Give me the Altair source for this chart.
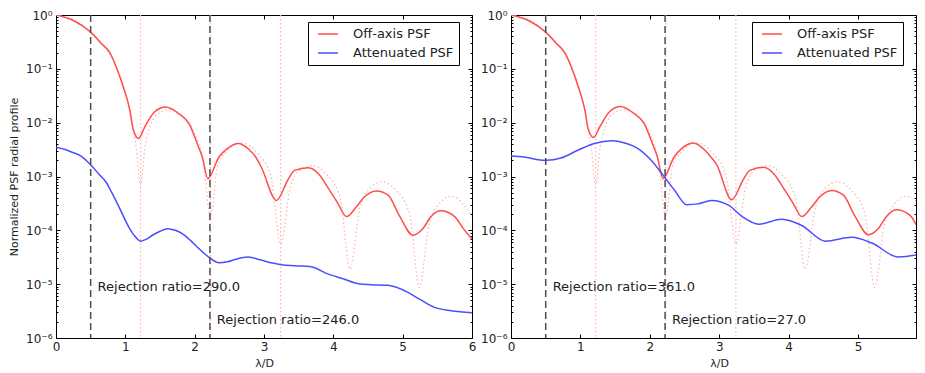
import altair as alt
import pandas as pd

# ---------------- data ----------------
RED_X = [0, 0.25, 0.5, 0.65, 0.78, 0.87, 0.97, 1.065, 1.11, 1.19, 1.28, 1.42, 1.58, 1.76, 1.92,
         2.04, 2.11, 2.19, 2.35, 2.47, 2.63, 2.78, 2.88, 2.96, 3.18, 3.35, 3.44, 3.64, 3.80, 3.92,
         4.07, 4.19, 4.33, 4.45, 4.62, 4.79, 4.95, 5.15, 5.29, 5.41, 5.55, 5.75, 5.87, 6.0]
RED_LEFT = [1.0, 0.79, 0.48, 0.30, 0.195, 0.107, 0.046, 0.017, 7.8e-3, 5.1e-3, 8.3e-3, 0.0158, 0.0195,
            0.0151, 9.5e-3, 4.0e-3, 2.3e-3, 9.1e-4, 2.3e-3, 3.3e-3, 4.1e-3, 3.2e-3, 2.3e-3, 1.5e-3,
            3.6e-4, 8.9e-4, 1.3e-3, 1.45e-3, 1.07e-3, 6.3e-4, 3.1e-4, 1.8e-4, 2.7e-4, 4.2e-4, 5.4e-4,
            4.5e-4, 1.9e-4, 8.1e-5, 1.07e-4, 1.8e-4, 2.3e-4, 1.8e-4, 1.1e-4, 6.9e-5]
RED_RIGHT = [1.0, 0.79, 0.48, 0.30, 0.195, 0.107, 0.046, 0.017, 7.8e-3, 5.3e-3, 8.4e-3, 0.016, 0.02,
             0.0152, 9.6e-3, 4.0e-3, 2.3e-3, 9.1e-4, 2.3e-3, 3.4e-3, 4.2e-3, 3.2e-3, 2.3e-3, 1.7e-3,
             3.7e-4, 8.9e-4, 1.3e-3, 1.48e-3, 1.07e-3, 6.3e-4, 3.1e-4, 1.8e-4, 2.7e-4, 4.2e-4, 5.5e-4,
             4.5e-4, 1.9e-4, 8.3e-5, 1.07e-4, 1.8e-4, 2.4e-4, 1.9e-4, 1.1e-4, 7.2e-5]

BLUE_LEFT_X = [0, 0.12, 0.24, 0.35, 0.51, 0.62, 0.72, 0.82, 0.91, 1.05, 1.13, 1.22, 1.30, 1.39, 1.50,
               1.61, 1.72, 1.82, 1.95, 2.06, 2.15, 2.23, 2.35, 2.47, 2.59, 2.77, 2.96, 3.10, 3.25,
               3.45, 3.68, 3.92, 4.15, 4.36, 4.55, 4.79, 5.07, 5.25, 5.46, 5.70, 6.0]
BLUE_LEFT = [3.5e-3, 3.2e-3, 2.8e-3, 2.45e-3, 1.6e-3, 1.1e-3, 7.9e-4, 4.6e-4, 2.7e-4, 1.15e-4, 8.0e-5,
             6.3e-5, 6.8e-5, 8.1e-5, 9.6e-5, 1.07e-4, 1.0e-4, 8.7e-5, 6.3e-5, 4.6e-5, 3.6e-5, 3.0e-5,
             2.5e-5, 2.6e-5, 2.9e-5, 3.2e-5, 2.8e-5, 2.5e-5, 2.3e-5, 2.2e-5, 2.1e-5, 1.55e-5, 1.25e-5,
             1.02e-5, 9.8e-6, 9.5e-6, 7.1e-6, 5.2e-6, 3.7e-6, 3.2e-6, 2.95e-6]

BLUE_RIGHT_X = [0, 0.19, 0.39, 0.51, 0.72, 0.97, 1.20, 1.45, 1.64, 1.83, 2.02, 2.21, 2.36, 2.53, 2.69,
                2.89, 3.14, 3.33, 3.57, 3.90, 4.19, 4.53, 4.91, 5.20, 5.58, 6.0]
BLUE_RIGHT = [2.4e-3, 2.3e-3, 2.05e-3, 2.0e-3, 2.2e-3, 3.1e-3, 4.1e-3, 4.6e-3, 4.2e-3, 3.3e-3, 2.0e-3,
              9.8e-4, 5.5e-4, 3.0e-4, 3.1e-4, 3.6e-4, 2.9e-4, 1.8e-4, 1.3e-4, 1.6e-4, 1.23e-4, 6.3e-5,
              7.4e-5, 5.8e-5, 3.2e-5, 3.8e-5]

AIRY_X = [0, 0.25, 0.5, 0.75, 0.9, 1.0, 1.1, 1.16, 1.22, 1.28, 1.35, 1.45, 1.64, 1.8, 2.0, 2.12, 2.23,
          2.33, 2.45, 2.68, 2.9, 3.1, 3.24, 3.38, 3.5, 3.7, 3.9, 4.1, 4.24, 4.38, 4.5, 4.7, 4.9, 5.1,
          5.24, 5.38, 5.5, 5.7, 5.9, 6.0]
AIRY = [1.0, 0.83, 0.48, 0.21, 0.089, 0.038, 0.01, 3.2e-3, 6.8e-4, 3.2e-3, 7.9e-3, 0.014, 0.0174, 0.014,
        6.3e-3, 2.0e-3, 1.8e-4, 1.6e-3, 2.8e-3, 4.2e-3, 2.8e-3, 1.0e-3, 5.6e-5, 6.3e-4, 1.26e-3, 1.6e-3,
        1.1e-3, 4.0e-4, 1.9e-5, 2.5e-4, 5.6e-4, 7.9e-4, 5.6e-4, 2.0e-4, 8.7e-6, 1.26e-4, 2.8e-4, 4.3e-4,
        2.8e-4, 1.8e-4]

DASHED_X = [0.5, 2.22]
DOTTED_X = [1.22, 2.23, 3.24]

SERIES = ["Off-axis PSF", "Attenuated PSF"]
COLORS = ["#ff4d4d", "#4d4dff"]

RATIO_X = [0.6, 2.32]
RATIO_Y = [8.7e-6, 2.2e-6]
RATIO_LEFT = ["Rejection ratio=290.0", "Rejection ratio=246.0"]
RATIO_RIGHT = ["Rejection ratio=361.0", "Rejection ratio=27.0"]

MAJOR = [1e-6, 1e-5, 1e-4, 1e-3, 1e-2, 1e-1, 1.0]
MINOR = [m * 10.0 ** k for k in range(-6, 0) for m in range(2, 10)]
XTICKS = [0, 1, 2, 3, 4, 5, 6]

H = 323
PX_PER_UNIT = 69.4
FONT = "DejaVu Sans"

E = "round(log(datum.value)/LN10)"
IS_MINOR = f"abs(log(datum.value)/LN10 - {E}) > 0.001"
LABEL_EXPR = (f"{IS_MINOR} ? '' : ({E} == 0 ? '10⁰' : {E} == -1 ? '10⁻¹' : {E} == -2 ? '10⁻²' : "
              f"{E} == -3 ? '10⁻³' : {E} == -4 ? '10⁻⁴' : {E} == -5 ? '10⁻⁵' : '10⁻⁶')")


def panel(red_vals, blue_x, blue_vals, texts, width, xmax, ytitle, legend_x):
    xs = alt.Scale(domain=[0, xmax], nice=False, zero=False)
    ys = alt.Scale(type="log", domain=[1e-6, 1], nice=False)
    xaxis = alt.Axis(values=[v for v in XTICKS if v <= xmax], title="λ/D", labelFlush=False,
                     ticks=False, domain=False,
                     grid=True, gridColor="black", gridOpacity=1, gridWidth=1,
                     gridDash=[4, H - 8, 4, 2000], labelPadding=3, labelFontSize=12,
                     titleFontSize=11, titleFontWeight="normal", titlePadding=5,
                     titleX=3 * PX_PER_UNIT, labelColor="#222", titleColor="#222")
    yaxis = alt.Axis(values=MAJOR + MINOR, labelExpr=LABEL_EXPR, labelFlush=False, ticks=False,
                     domain=False, grid=True, gridColor="black", gridOpacity=1, gridWidth=1,
                     gridDash={"condition": {"test": IS_MINOR, "value": [2, width - 4, 2, 2000]},
                               "value": [4, width - 8, 4, 2000]},
                     labelPadding=4, labelFontSize=12, labelColor="#222",
                     title=ytitle if ytitle else None, titleFontSize=11, titleFontWeight="normal",
                     titleColor="#222", titlePadding=6)

    rows = []
    for x, v in zip(RED_X, red_vals):
        rows.append({"x": x, "y": v, "series": SERIES[0]})
    for x, v in zip(blue_x, blue_vals):
        rows.append({"x": x, "y": v, "series": SERIES[1]})
    df = pd.DataFrame(rows)
    df["order"] = range(len(df))

    airy = pd.DataFrame({"x": AIRY_X, "y": AIRY})
    dotted = pd.DataFrame({"x": DOTTED_X})
    dashed = pd.DataFrame({"x": DASHED_X})
    txt = pd.DataFrame({"x": RATIO_X, "y": RATIO_Y, "t": texts})

    airy_l = alt.Chart(airy).mark_line(color="#ffb0b0", strokeWidth=1.2, strokeDash=[1.5, 2.5],
                                       clip=True, interpolate="monotone").encode(
        x=alt.X("x:Q", scale=xs, axis=xaxis), y=alt.Y("y:Q", scale=ys, axis=yaxis))
    dotted_l = alt.Chart(dotted).mark_rule(color="#ffb0b0", strokeWidth=1.2,
                                           strokeDash=[1.5, 2.5]).encode(
        x=alt.X("x:Q", scale=xs, axis=xaxis))
    dashed_l = alt.Chart(dashed).mark_rule(color="#4d4d4d", strokeWidth=1.5,
                                           strokeDash=[7, 4]).encode(
        x=alt.X("x:Q", scale=xs, axis=xaxis))
    lines = alt.Chart(df).mark_line(strokeWidth=1.5, clip=True, interpolate="monotone").encode(
        x=alt.X("x:Q", scale=xs, axis=xaxis),
        y=alt.Y("y:Q", scale=ys, axis=yaxis),
        order="order:Q",
        color=alt.Color("series:N", scale=alt.Scale(domain=SERIES, range=COLORS),
                        sort=SERIES,
                        legend=alt.Legend(title=None, orient="none", legendX=legend_x, legendY=7,
                                          strokeColor="black", fillColor="white", padding=5,
                                          labelFontSize=13, labelColor="#222",
                                          labelExpr="datum.label + '\u2003\u2002'",
                                          symbolType="stroke", symbolSize=400, clipHeight=14,
                                          symbolStrokeWidth=1.5, labelOffset=14,
                                          rowPadding=5, symbolOffset=4, cornerRadius=0)))
    text_l = alt.Chart(txt).mark_text(align="left", baseline="middle", fontSize=13,
                                      color="#222", font=FONT).encode(
        x=alt.X("x:Q", scale=xs, axis=xaxis), y=alt.Y("y:Q", scale=ys, axis=yaxis), text="t:N")

    return alt.layer(dotted_l, airy_l, lines, dashed_l, text_l).properties(width=width, height=H)


left = panel(RED_LEFT, BLUE_LEFT_X, BLUE_LEFT, RATIO_LEFT, 416, 6,
             "Normalized PSF radial profile", 252)
RIGHT_W = 405
right = panel(RED_RIGHT, BLUE_RIGHT_X, BLUE_RIGHT, RATIO_RIGHT, RIGHT_W,
              round(RIGHT_W / PX_PER_UNIT, 4), None, 241)

chart = alt.hconcat(left, right, spacing=3).resolve_scale(
    color="independent", x="independent", y="independent").resolve_legend(
    color="independent").properties(padding=0).configure(font=FONT).configure_view(
    stroke="black", strokeWidth=1).configure_axis(labelFont=FONT, titleFont=FONT).configure_legend(
    labelFont=FONT)

chart.save("out.html", embed_options={"renderer": "svg", "actions": False})
